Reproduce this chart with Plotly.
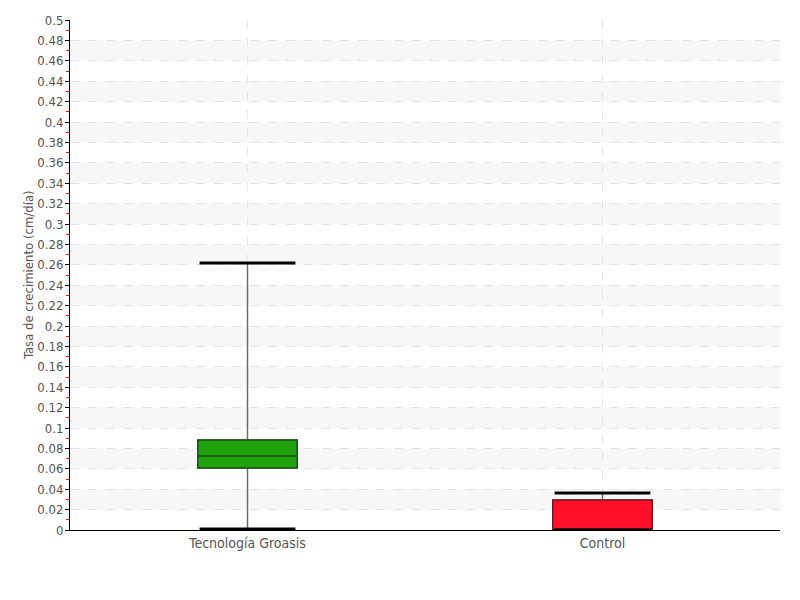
import plotly.graph_objects as go

# Growth-rate summary statistics per treatment (cm/día)
categories = ["Tecnología Groasis", "Control"]
lower_fence = [0.001, 0.0]
q1 = [0.0608, 0.0]
median = [0.0725, 0.0]
q3 = [0.0882, 0.0294]
upper_fence = [0.2618, 0.0363]

fill_colors = ["#21a30f", "#ff1029"]
edge_colors = ["#1d4f17", "#6e1a22"]

y_step = 0.02
y_max = 0.5
y_title = "Tasa de crecimiento (cm/día)"

FONT = "Liberation Sans Narrow, DejaVu Sans Condensed, sans-serif"

fig = go.Figure()

for i, cat in enumerate(categories):
    # whiskers (gray) with full five-number summary
    fig.add_trace(go.Box(
        x=[cat], q1=[q1[i]], median=[median[i]], q3=[q3[i]],
        lowerfence=[lower_fence[i]], upperfence=[upper_fence[i]],
        width=0.28, whiskerwidth=0, fillcolor="rgba(0,0,0,0)",
        line=dict(color="#6b6b6b", width=1.5), showlegend=False,
        hoverinfo="skip",
    ))
    # coloured interquartile box on top
    fig.add_trace(go.Box(
        x=[cat], q1=[q1[i]], median=[median[i]], q3=[q3[i]],
        lowerfence=[q1[i]], upperfence=[q3[i]],
        width=0.28, whiskerwidth=0, fillcolor=fill_colors[i],
        line=dict(color=edge_colors[i], width=1.5), showlegend=False,
    ))
    # thick black whisker caps
    for fence in (lower_fence[i], upper_fence[i]):
        fig.add_trace(go.Scatter(
            x=[i - 0.135, i + 0.135], y=[fence, fence], mode="lines",
            line=dict(color="#000000", width=3), showlegend=False,
            hoverinfo="skip", xaxis="x2",
        ))

# alternating light bands behind the grid
n_steps = int(round(y_max / y_step))
shapes = []
for k in range(1, n_steps - 1, 2):
    shapes.append(dict(
        type="rect", xref="paper", yref="y", x0=0, x1=1,
        y0=k * y_step, y1=(k + 1) * y_step,
        fillcolor="#f7f7f7", line=dict(width=0), layer="below",
    ))

fig.update_layout(
    width=800, height=600,
    margin=dict(l=70, r=20, t=20, b=70),
    paper_bgcolor="white", plot_bgcolor="white",
    boxmode="overlay",
    font=dict(family=FONT, size=14, color="#555555"),
    shapes=shapes,
    xaxis=dict(
        type="category", categoryorder="array", categoryarray=categories,
        range=[-0.5, 1.5], showgrid=True, gridcolor="#e6e6e6",
        griddash="dash", gridwidth=1,
        showline=True, linecolor="#000000", linewidth=1,
        ticks="", tickfont=dict(family=FONT, size=14, color="#555555"),
        zeroline=False,
    ),
    xaxis2=dict(
        overlaying="x", range=[-0.5, 1.5], visible=False,
    ),
    yaxis=dict(
        range=[0, y_max], tickmode="linear", tick0=0, dtick=y_step,
        showgrid=True, gridcolor="#e3e3e3", griddash="dash", gridwidth=1,
        showline=True, linecolor="#000000", linewidth=1,
        ticks="outside", ticklen=4, tickcolor="#000000",
        ticklabelstandoff=-1,
        minor=dict(dtick=y_step / 2, ticks="outside", ticklen=3,
                   tickcolor="#ff0000", showgrid=False),
        zeroline=False,
        tickfont=dict(family=FONT, size=13, color="#555555"),
    ),
    annotations=[dict(
        text=y_title, xref="paper", yref="paper",
        x=-0.059, y=0.5, xanchor="center", yanchor="middle",
        textangle=-90, showarrow=False,
        font=dict(family=FONT, size=13, color="#555555"),
    )],
)

fig.write_html("out.html")
